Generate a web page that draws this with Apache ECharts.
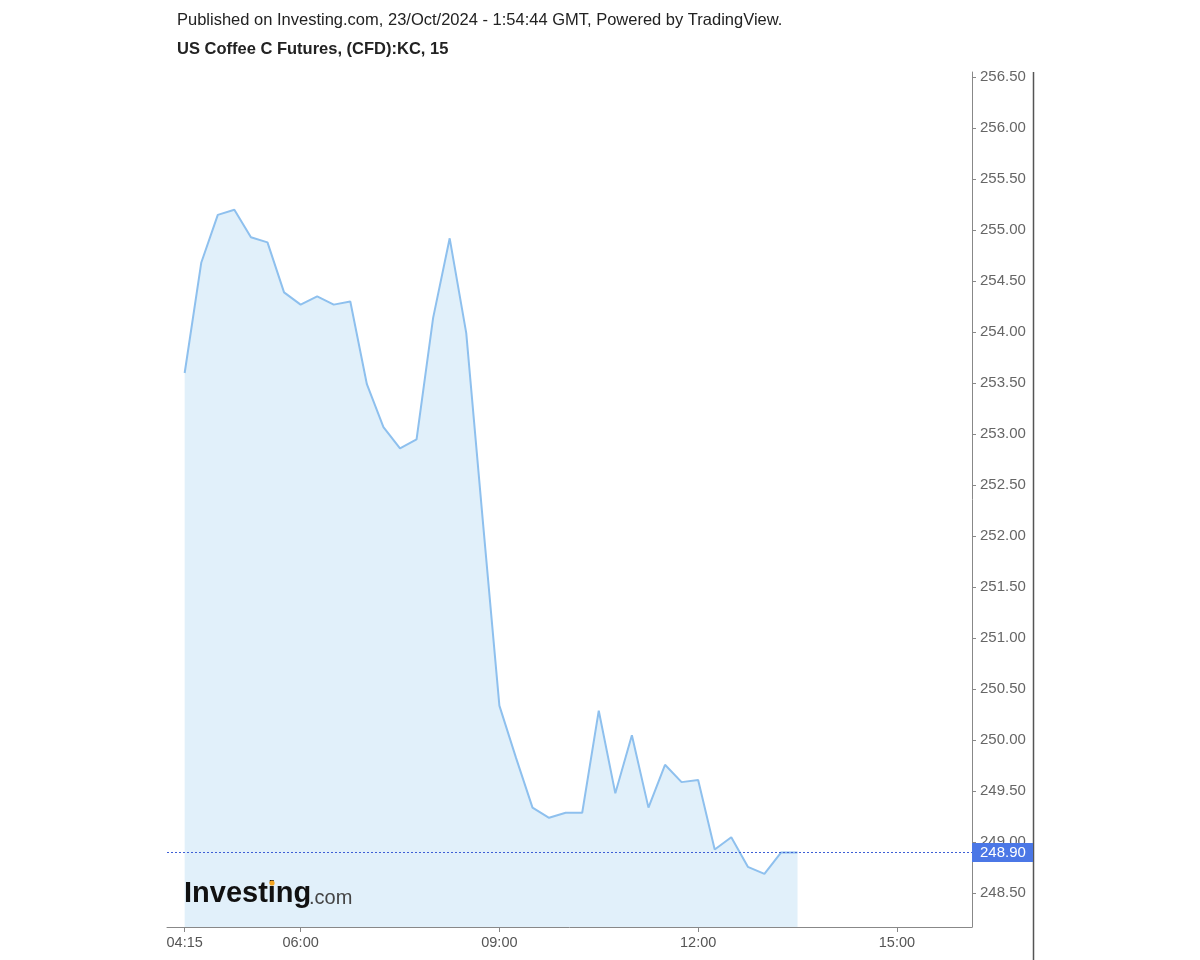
<!DOCTYPE html>
<html>
<head>
<meta charset="utf-8">
<script src="https://cdn.jsdelivr.net/npm/echarts@6/dist/echarts.min.js"></script>
<style>
html,body{margin:0;padding:0;background:#fff;}
#chart{width:1200px;height:960px;}
</style>
</head>
<body>
<div id="chart"></div>
<script>
// Times (HH:MM, 15-minute bars)
var times = ['04:15','04:30','04:45','05:00','05:15','05:30','05:45','06:00','06:15','06:30',
             '06:45','07:00','07:15','07:30','07:45','08:00','08:15','08:30','08:45','09:00',
             '09:15','09:30','09:45','10:00','10:15','10:30','10:45','11:00','11:15','11:30',
             '11:45','12:00','12:15','12:30','12:45','13:00','13:15','13:30'];
// Close prices
var prices = [253.60,254.68,255.15,255.20,254.93,254.88,254.39,254.27,254.35,254.27,
              254.30,253.49,253.07,252.86,252.95,254.14,254.92,253.99,252.15,250.34,
              249.83,249.34,249.24,249.29,249.29,250.29,249.48,250.05,249.34,249.76,
              249.59,249.61,248.93,249.05,248.76,248.69,248.90,248.90];
var lastPrice = 248.90;
var xTickLabels = ['04:15','06:00','09:00','12:00','15:00'];
var yTickValues = [248.5,249,249.5,250,250.5,251,251.5,252,252.5,253,253.5,254,254.5,255,255.5,256,256.5];
var titleLine1 = 'Published on Investing.com, 23/Oct/2024 - 1:54:44 GMT, Powered by TradingView.';
var titleLine2 = 'US Coffee C Futures, (CFD):KC, 15';

function toMin(s){var p=s.split(':');return (+p[0])*60+(+p[1]);}
var seriesData = times.map(function(t,i){return [toMin(t), prices[i]];});
var xTickValues = xTickLabels.map(toMin);

var chart = echarts.init(document.getElementById('chart'));
var font = 'Liberation Sans, Arial, sans-serif';
chart.setOption({
  animation:false,
  backgroundColor:'#ffffff',
  grid:{left:167,right:228,top:72,bottom:33,containLabel:false},
  xAxis:{
    type:'value',
    min:toMin('03:59'), max:toMin('16:08'),
    splitLine:{show:false},
    axisLine:{show:true,lineStyle:{color:'#888',width:1}},
    axisTick:{show:true,length:5,lineStyle:{color:'#888'},customValues:xTickValues},
    axisLabel:{color:'#555',fontSize:14.5,fontFamily:font,margin:8,customValues:xTickValues,
      formatter:function(v){var i=xTickValues.indexOf(v);return i>=0?xTickLabels[i]:'';}}
  },
  yAxis:{
    type:'value',position:'right',
    min:248.17,max:256.55,
    splitLine:{show:false},
    axisLine:{show:true,lineStyle:{color:'#888',width:1}},
    axisTick:{show:true,inside:false,length:4,lineStyle:{color:'#888'},customValues:yTickValues},
    axisLabel:{color:'#666',fontSize:15,fontFamily:font,margin:8,customValues:yTickValues,
      formatter:function(v){return v.toFixed(2);}}
  },
  graphic:[
    {type:'text',left:177,top:12,style:{text:titleLine1,fill:'#222',font:'16.5px '+font}},
    {type:'text',left:177,top:41,style:{text:titleLine2,fill:'#222',font:'bold 16.5px '+font}},
    {type:'line',shape:{x1:1033.5,y1:72,x2:1033.5,y2:960},style:{stroke:'#555',lineWidth:1.5}},
    {type:'text',left:184,top:879,z:10,style:{text:'Investing',fill:'#111',font:'bold 29px '+font}},
    {type:'text',left:309,top:888,z:10,style:{text:'.com',fill:'#444',font:'20px '+font}},
    {type:'circle',z:11,shape:{cx:272,cy:883,r:2.6},style:{fill:'#f5a623'}}
  ],
  series:[{
    type:'line',
    data:seriesData,
    showSymbol:false,
    symbol:'none',
    lineStyle:{color:'#8ec0ee',width:2},
    areaStyle:{color:'#e1f0fa',opacity:1,origin:'start'},
    markLine:{
      silent:true,symbol:['none','none'],
      lineStyle:{color:'#3d5fd6',type:[2,2],width:1},
      label:{show:true,position:'end',distance:0,formatter:function(){return lastPrice.toFixed(2);},
        color:'#fff',backgroundColor:'#4b77e6',fontSize:15,fontFamily:font,
        padding:[2,6,2,8],width:47},
      data:[{yAxis:lastPrice}]
    }
  }]
});
</script>
</body>
</html>
